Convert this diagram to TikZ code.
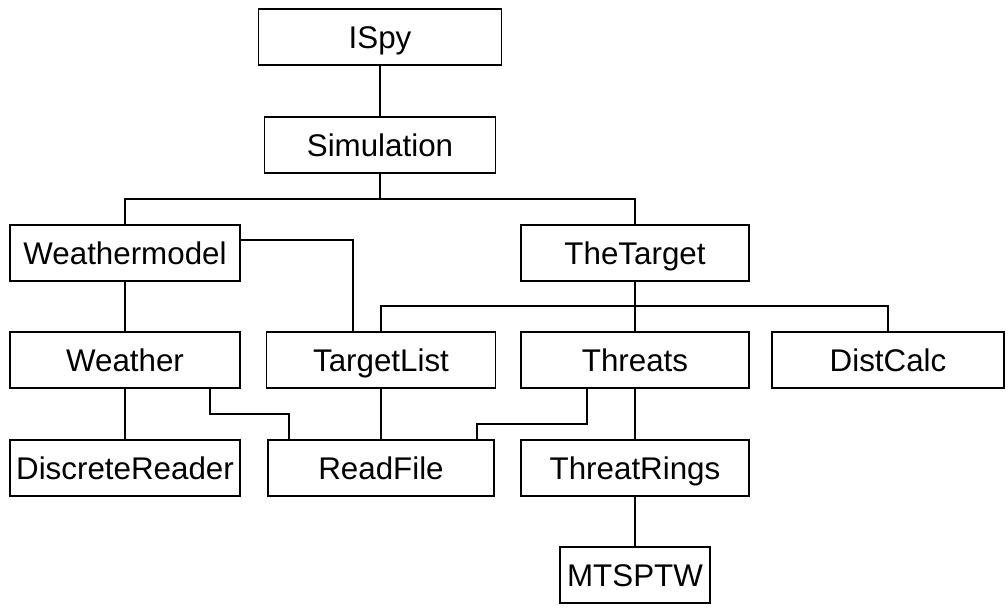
\documentclass[tikz,border=0pt]{standalone}
\usepackage{fontspec}
\setmainfont{Liberation Sans}
\usetikzlibrary{calc}

\begin{document}
\begin{tikzpicture}[
    x=0.75pt, y=-0.75pt,
    unit/.style={rectangle, draw=black, line width=1.3pt, minimum width=#1*0.75pt, minimum height=42pt, inner sep=0pt, text height=16.8pt, text depth=0pt, font=\fontsize{23.5}{28}\selectfont},
    unit/.default=230,
    link/.style={line width=1.3pt, color=black}
]
\useasboundingbox (0,0) rectangle (1008,614);

\node[unit=243] (ispy) at (380,37) {ISpy};
\node[unit=231] (sim) at (380,145) {Simulation};

\node[unit] (wmodel) at (125,253) {Weathermodel};
\node[unit=228] (target) at (635,253) {TheTarget};

\node[unit] (weather) at (125,360) {Weather};
\node[unit=229] (tlist) at (381,360) {TargetList};
\node[unit=228] (threats) at (635,360) {Threats};
\node[unit=232] (dist) at (888,360) {DistCalc};

\node[unit] (dreader) at (125,468) {DiscreteReader};
\node[unit=226] (rfile) at (381,468) {ReadFile};
\node[unit=228] (rings) at (635,468) {ThreatRings};

\node[unit=150] (mtsptw) at (635,575) {MTSPTW};

\coordinate (simbus) at (380,199);
\coordinate (tbus) at (635,306);

\draw[link] (ispy) -- (sim);
\draw[link] (sim.south) -- (simbus);
\draw[link] (wmodel.north) |- (simbus) -| (target.north);
\draw[link] (wmodel) -- (weather);
\draw[link] ($(wmodel.east)+(0,-13)$) -| ($(tlist.north)+(-28,0)$);
\draw[link] (target) -- (threats);
\draw[link] (tlist.north) |- (tbus) -| (dist.north);
\draw[link] (weather) -- (dreader);
\draw[link] ($(weather.south)+(85,0)$) -- ++(0,25) -| ($(rfile.north)+(-92,0)$);
\draw[link] (tlist) -- (rfile);
\draw[link] ($(threats.south)+(-48,0)$) -- ++(0,35) -| ($(rfile.north)+(96,0)$);
\draw[link] (threats) -- (rings);
\draw[link] (rings) -- (mtsptw);

\end{tikzpicture}
\end{document}
